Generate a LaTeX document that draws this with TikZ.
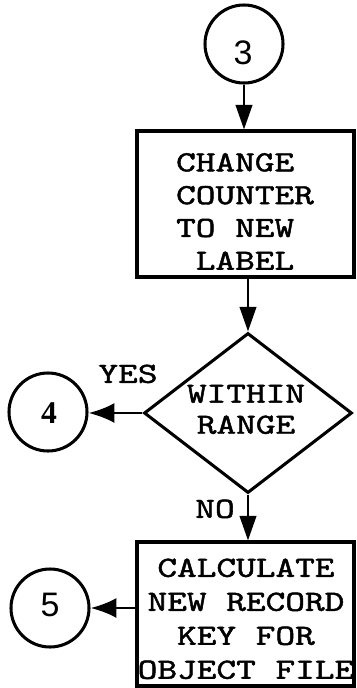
\documentclass[tikz,border=0pt]{standalone}
\usepackage{graphicx}
\usepackage{fontspec}
\setmonofont[FakeBold=1.4]{lmmono10-regular.otf}
\newfontfamily\digitsans{Liberation Sans}
\newfontfamily\digitserif{Liberation Serif}
\usetikzlibrary{shapes.geometric,arrows.meta}

% widened typewriter block: #1 baseline skip, #2 column alignment, #3 lines
\newcommand\wideblock[3]{\scalebox{1.28}[1]{\ttfamily\fontsize{25}{#1}\selectfont
  \begin{tabular}{@{}#2@{}}#3\end{tabular}}}

\tikzset{
  flowline/.style={line width=2.6pt},
  connector/.style={flowline, circle, draw, minimum size=78*0.03cm, inner sep=0pt},
  stepbox/.style={flowline, draw, inner sep=0pt},
  boxtext/.style={inner sep=0pt},
  digit/.style={inner sep=0pt, font=\digitsans\fontsize{29}{29}\selectfont},
  decision/.style={flowline, diamond, draw, inner sep=0pt,
    minimum width=208*0.03cm, minimum height=160*0.03cm},
  downarrow/.style={line width=2.4pt, -{Triangle[length=21pt,width=14pt]}},
  sidearrow/.style={line width=2.4pt, -{Latex[length=22pt,width=17pt]}},
  labeltext/.style={inner sep=0pt}
}

\begin{document}
\begin{tikzpicture}[x=0.03cm, y=-0.03cm]
  \useasboundingbox (0,0) rectangle (356,688);

  % off-page connector into this page
  \node[connector] (c3) at (244,44) {};
  \node[digit] (c3t) at (243,53) {3};

  % first processing step
  \node[stepbox, minimum width=217*0.03cm, minimum height=146*0.03cm] (b1) at (245.5,204) {};
  \node[boxtext] (b1t) at (245,214)
    {\wideblock{28}{l}{CHANGE\\COUNTER\\TO NEW\\\ LABEL}};

  % range test
  \node[decision] (d) at (248,413) {};
  \node[boxtext] (dt) at (246,412) {\wideblock{26.5}{c}{WITHIN\\RANGE}};

  % exits
  \node[connector] (c4) at (48,412) {};
  \node[digit, font=\digitserif\bfseries\fontsize{27}{27}\selectfont] (c4t) at (49,413) {4};

  \node[stepbox, minimum width=217*0.03cm, minimum height=144*0.03cm] (b2) at (245.5,614) {};
  \node[boxtext] (b2t) at (246,621)
    {\wideblock{29}{c}{CALCULATE\\NEW RECORD\\KEY FOR\\OBJECT FILE}};

  \node[connector] (c5) at (50,608) {};
  \node[digit] (c5t) at (50,605) {5};

  % branch labels
  \node[labeltext] (yes) at (128,377) {\wideblock{25}{c}{YES}};
  \node[labeltext] (no) at (215,512) {\wideblock{25}{c}{NO}};

  % flow lines
  \draw[downarrow] (c3.south) -- (c3.south |- b1.north);
  \draw[downarrow] (b1.south -| d.north) -- (d.north);
  \draw[sidearrow] (d.west) -- (d.west -| c4.east);
  \draw[downarrow] (d.south) -- (d.south |- b2.north);
  \draw[sidearrow] (b2.west |- c5.east) -- (c5.east);
\end{tikzpicture}
\end{document}
